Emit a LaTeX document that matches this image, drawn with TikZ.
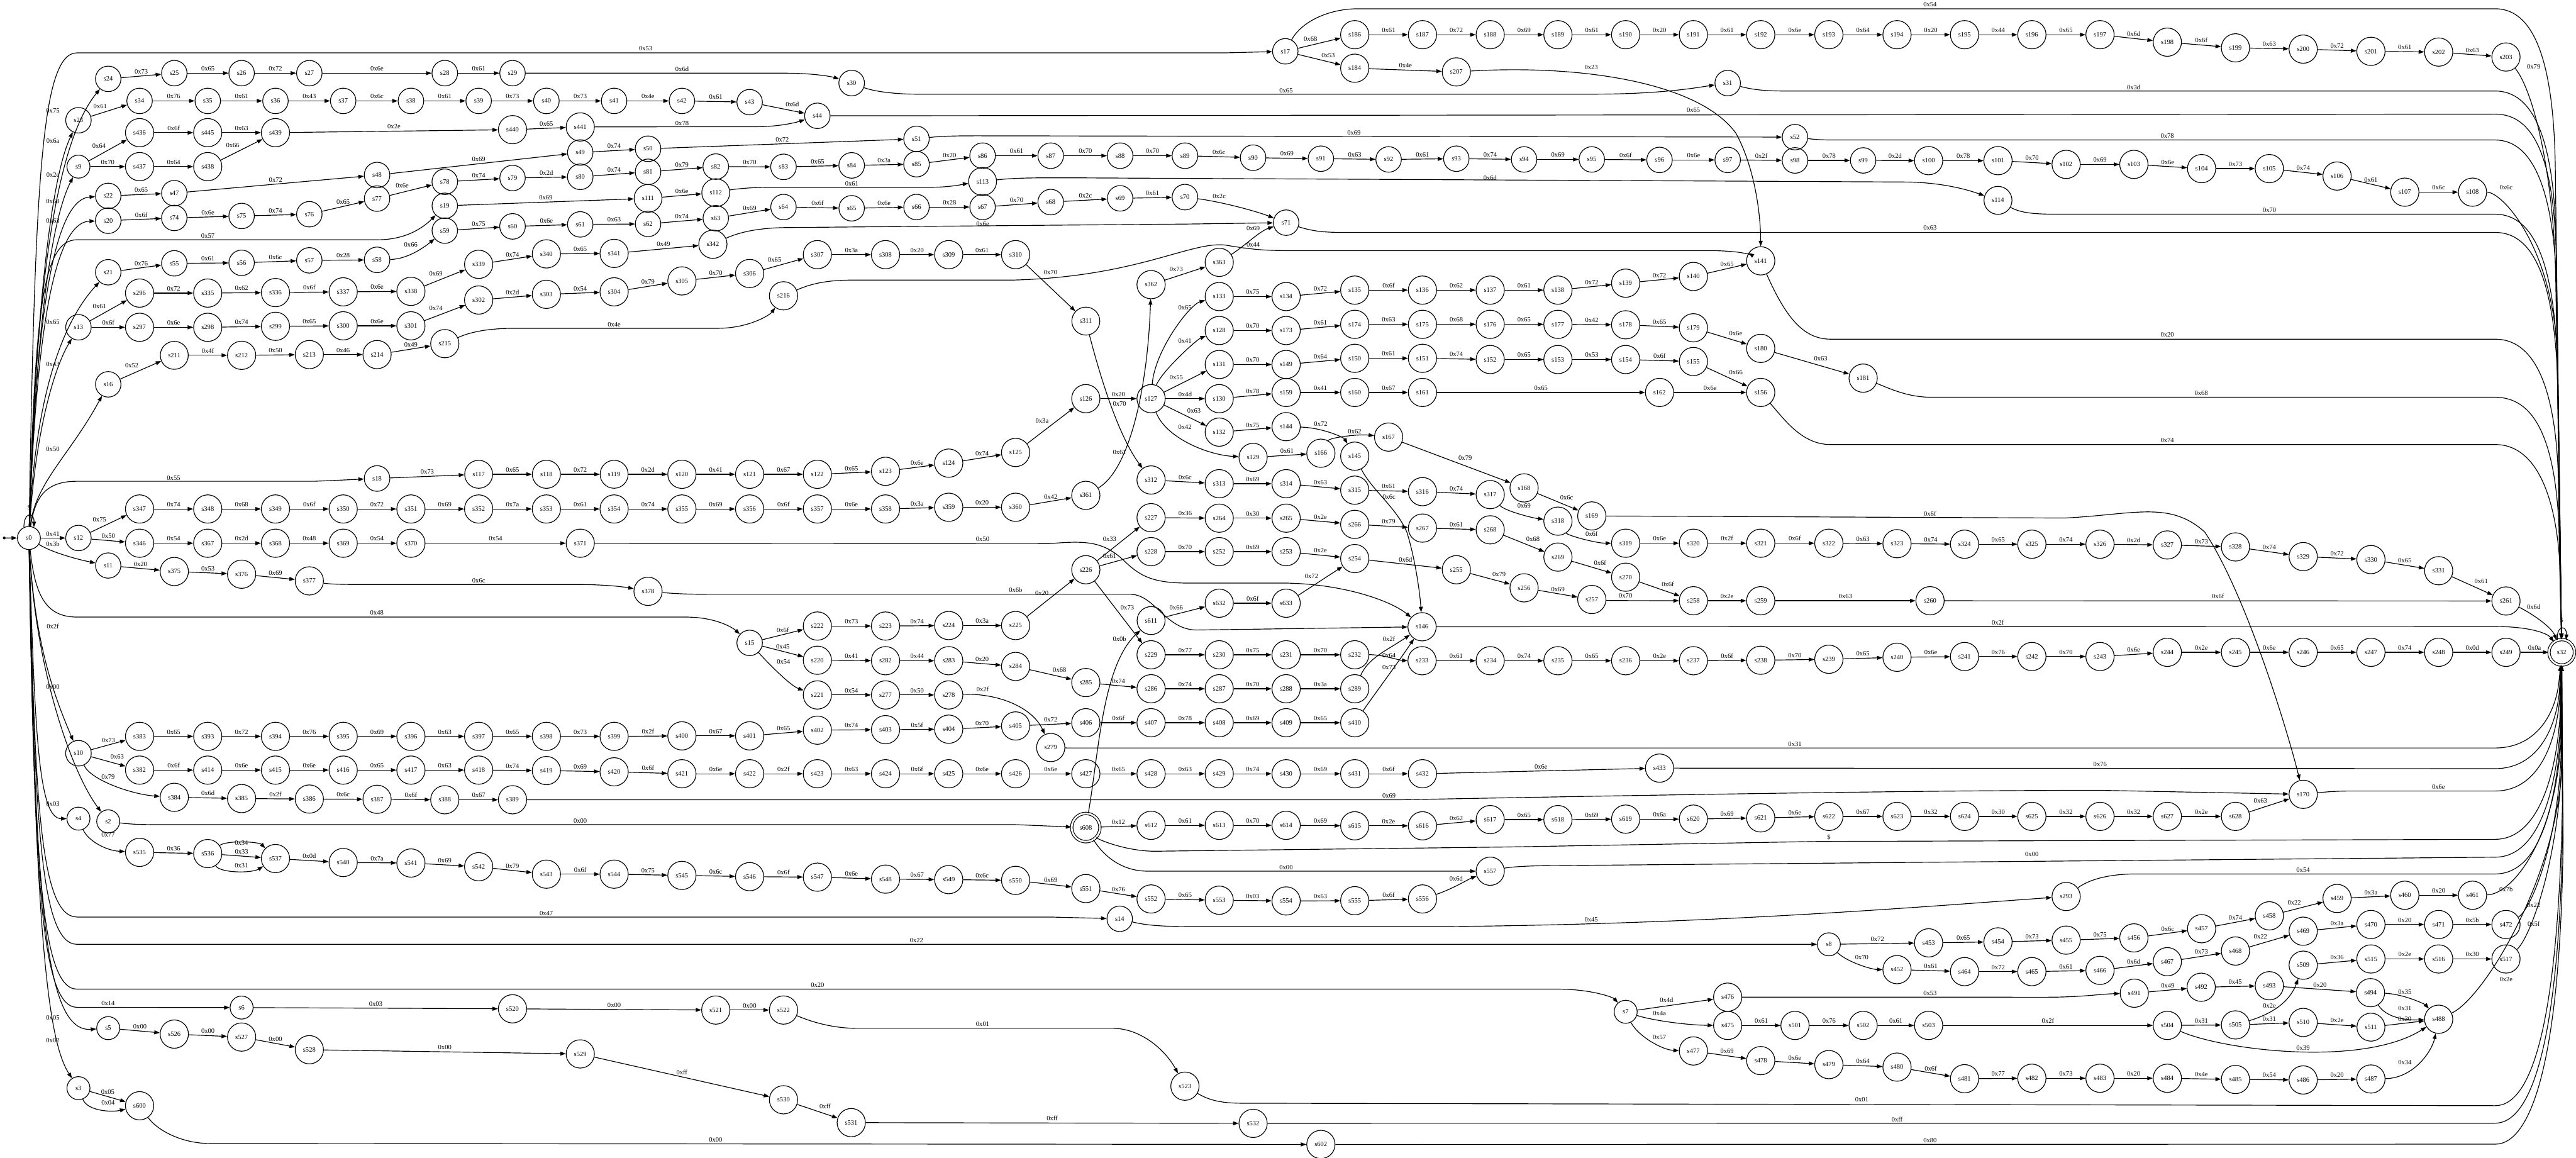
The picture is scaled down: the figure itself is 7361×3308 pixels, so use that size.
\documentclass[tikz,border=0pt]{standalone}
\usepackage{fontspec}
\setmainfont{Liberation Serif}
\usetikzlibrary{arrows.meta}
\newcommand\tfs{\fontsize{5.4}{6}\selectfont}
\newcommand\nd[3]{\node[st] (#1) at (#2,#3) {#1};}
\newcommand\ed[3]{\draw[e] (#1) -- node[lab]{#3} (#2);}
\newcommand\edu[3]{\draw[e] (#1) -- node[lab,above left]{#3} (#2);}
\newcommand\edd[3]{\draw[e] (#1) -- node[lab,above right]{#3} (#2);}
\begin{document}
\begin{tikzpicture}[x=0.01cm,y=-0.01cm,
 st/.style={draw,circle,inner sep=4.5pt,font=\tfs,line width=0.6pt},
 acc/.style={st,double,double distance=1.4pt},
 e/.style={-{Triangle[length=4.5pt,width=3.2pt]},line width=0.6pt},
 lab/.style={font=\tfs,above,inner sep=1.5pt},
 lb/.style={font=\tfs,inner sep=0pt},
 band/.style 2 args={shift={(#1,#2)},x=0.0118cm,y=-0.00708cm}]
\useasboundingbox (0,0) rectangle (7361,3308);
% ---------------- nodes
\begin{scope}[band={0}{0}]
\nd{s24}{262}{318}\nd{s25}{422}{295}\nd{s26}{585}{295}\nd{s27}{749}{295}\nd{s28}{1077}{295}\nd{s29}{1241}{295}
\nd{s23}{190}{485}\nd{s34}{338}{407}\nd{s35}{503}{407}\nd{s36}{667}{407}\nd{s37}{831}{407}\nd{s38}{995}{407}\nd{s39}{1159}{407}\nd{s40}{1323}{407}\nd{s41}{1487}{407}
\nd{s9}{190}{672}\nd{s436}{338}{535}\nd{s445}{503}{535}\nd{s439}{667}{535}\nd{s437}{338}{672}\nd{s438}{503}{672}\nd{s440}{1241}{523}\nd{s441}{1405}{512}
\nd{s49}{1405}{615}\nd{s48}{913}{706}\nd{s22}{262}{790}\nd{s47}{422}{779}
\nd{s20}{262}{890}\nd{s74}{422}{879}\nd{s75}{585}{871}\nd{s76}{749}{864}\nd{s77}{913}{801}\nd{s78}{1077}{733}\nd{s79}{1241}{718}\nd{s80}{1405}{713}
\nd{s19}{1077}{830}\nd{s59}{1077}{930}\nd{s60}{1241}{913}\nd{s61}{1405}{905}
\nd{s21}{262}{1098}\nd{s55}{422}{1062}\nd{s56}{585}{1060}\nd{s57}{749}{1050}\nd{s58}{913}{1048}
\nd{s339}{1159}{1066}\nd{s340}{1323}{1024}\nd{s341}{1487}{1022}
\nd{s13}{190}{1320}\nd{s296}{338}{1182}\nd{s335}{503}{1182}\nd{s336}{667}{1180}\nd{s337}{831}{1177}\nd{s338}{995}{1175}
\nd{s297}{338}{1320}\nd{s298}{503}{1320}\nd{s299}{667}{1316}\nd{s300}{831}{1314}\nd{s301}{995}{1314}\nd{s302}{1159}{1210}\nd{s303}{1323}{1187}\nd{s304}{1487}{1177}
\nd{s16}{262}{1550}\nd{s211}{422}{1433}\nd{s212}{585}{1433}\nd{s213}{749}{1430}\nd{s214}{913}{1430}\nd{s215}{1077}{1386}
\end{scope}
\begin{scope}[band={1840}{0}]
\nd{s17}{1553}{207}\nd{s30}{503}{335}\nd{s42}{92}{407}\nd{s43}{256}{412}\nd{s44}{420}{467}
\nd{s50}{10}{600}\nd{s51}{660}{560}
\nd{s81}{10}{693}\nd{s82}{174}{672}\nd{s83}{338}{673}\nd{s84}{503}{667}\nd{s85}{660}{662}\nd{s86}{820}{628}\nd{s87}{985}{628}\nd{s88}{1153}{628}\nd{s89}{1310}{628}\nd{s90}{1475}{636}
\nd{s111}{10}{800}\nd{s112}{174}{777}\nd{s113}{820}{732}
\nd{s62}{10}{903}\nd{s63}{174}{880}\nd{s64}{338}{835}\nd{s65}{503}{840}\nd{s66}{660}{835}\nd{s67}{820}{835}\nd{s68}{985}{815}\nd{s69}{1153}{800}\nd{s70}{1310}{795}\nd{s71}{1555}{898}
\nd{s342}{167}{985}\nd{s305}{92}{1133}\nd{s306}{256}{1103}\nd{s307}{420}{1027}\nd{s308}{585}{1027}\nd{s309}{738}{1027}\nd{s310}{900}{1027}\nd{s311}{1070}{1295}\nd{s216}{338}{1193}
\nd{s362}{1228}{1148}\nd{s363}{1393}{1058}\nd{s133}{1393}{1196}\nd{s134}{1555}{1196}\nd{s128}{1393}{1333}\nd{s173}{1555}{1333}\nd{s131}{1393}{1470}\nd{s149}{1555}{1470}
\end{scope}
\begin{scope}[band={3680}{0}]
\nd{s186}{162}{140}\nd{s187}{326}{140}\nd{s188}{490}{140}\nd{s189}{654}{140}\nd{s190}{818}{140}\nd{s191}{982}{140}\nd{s192}{1145}{140}\nd{s193}{1310}{140}\nd{s194}{1475}{140}
\nd{s184}{162}{275}\nd{s207}{408}{290}\nd{s31}{1065}{335}\nd{s52}{1228}{553}
\nd{s91}{80}{640}\nd{s92}{244}{643}\nd{s93}{408}{640}\nd{s94}{572}{643}\nd{s95}{736}{643}\nd{s96}{900}{645}\nd{s97}{1065}{645}\nd{s98}{1228}{647}\nd{s99}{1393}{647}
\nd{s135}{162}{1170}\nd{s136}{326}{1170}\nd{s137}{490}{1170}\nd{s138}{654}{1170}\nd{s139}{818}{1142}\nd{s140}{982}{1115}\nd{s141}{1145}{1052}
\nd{s174}{162}{1308}\nd{s175}{326}{1308}\nd{s176}{490}{1308}\nd{s177}{654}{1308}\nd{s178}{818}{1310}\nd{s179}{982}{1322}\nd{s180}{1145}{1405}\nd{s181}{1393}{1525}
\nd{s150}{162}{1445}\nd{s151}{326}{1445}\nd{s152}{490}{1450}\nd{s153}{654}{1450}\nd{s154}{818}{1450}\nd{s155}{982}{1458}
\end{scope}
\begin{scope}[band={5511}{0}]
\nd{s195}{87}{140}\nd{s196}{250}{140}\nd{s197}{415}{140}\nd{s198}{578}{170}\nd{s199}{743}{193}\nd{s200}{907}{198}\nd{s201}{1071}{207}\nd{s202}{1235}{210}\nd{s203}{1398}{230}
\nd{s100}{0}{648}\nd{s101}{168}{648}\nd{s102}{333}{663}\nd{s103}{497}{663}\nd{s104}{661}{680}\nd{s105}{825}{680}\nd{s106}{989}{710}\nd{s107}{1153}{775}\nd{s108}{1317}{775}
\nd{s114}{168}{808}
\end{scope}
\begin{scope}[band={0}{1100}]
\nd{s0}{70}{617}\nd{s18}{913}{377}\nd{s117}{1159}{360}\nd{s118}{1323}{360}\nd{s119}{1487}{360}
\nd{s12}{190}{617}\nd{s347}{338}{500}\nd{s348}{503}{500}\nd{s349}{667}{500}\nd{s350}{831}{500}\nd{s351}{995}{500}\nd{s352}{1159}{500}\nd{s353}{1323}{500}\nd{s354}{1487}{500}
\nd{s346}{338}{638}\nd{s367}{503}{638}\nd{s368}{667}{638}\nd{s369}{831}{638}\nd{s370}{995}{638}\nd{s371}{1405}{638}
\nd{s11}{262}{728}\nd{s375}{422}{752}\nd{s376}{585}{763}\nd{s377}{749}{790}
\nd{s10}{190}{1485}\nd{s383}{338}{1417}\nd{s393}{503}{1417}\nd{s394}{667}{1417}\nd{s395}{831}{1417}\nd{s396}{995}{1417}\nd{s397}{1159}{1417}\nd{s398}{1323}{1417}\nd{s399}{1487}{1417}
\nd{s382}{338}{1553}\nd{s414}{503}{1553}\nd{s415}{667}{1553}\nd{s416}{831}{1553}\nd{s417}{995}{1553}\nd{s418}{1159}{1553}\nd{s419}{1323}{1555}\nd{s420}{1487}{1560}
\end{scope}
\begin{scope}[band={1840}{1100}]
\nd{s120}{92}{360}\nd{s121}{256}{360}\nd{s122}{420}{360}\nd{s123}{585}{348}\nd{s124}{738}{315}\nd{s125}{900}{272}\nd{s126}{1070}{55}\nd{s127}{1228}{55}\nd{s130}{1393}{55}\nd{s159}{1555}{30}\nd{s132}{1393}{190}\nd{s144}{1555}{168}\nd{s129}{1475}{292}\nd{s312}{1228}{383}\nd{s313}{1393}{398}\nd{s314}{1555}{398}
\nd{s355}{92}{500}\nd{s356}{256}{500}\nd{s357}{420}{500}\nd{s358}{585}{500}\nd{s359}{738}{493}\nd{s360}{900}{493}\nd{s361}{1070}{445}
\nd{s378}{10}{832}
\nd{s227}{1228}{535}\nd{s264}{1393}{537}\nd{s265}{1555}{537}\nd{s228}{1228}{672}\nd{s252}{1393}{672}\nd{s253}{1555}{672}\nd{s226}{1070}{745}
\nd{s611}{1228}{950}\nd{s632}{1393}{880}\nd{s633}{1555}{880}
\nd{s222}{420}{972}\nd{s223}{585}{972}\nd{s224}{738}{970}\nd{s225}{900}{970}\nd{s15}{256}{1040}
\nd{s220}{420}{1110}\nd{s282}{585}{1112}\nd{s283}{738}{1112}\nd{s284}{900}{1135}\nd{s285}{1070}{1200}
\nd{s229}{1228}{1088}\nd{s230}{1393}{1088}\nd{s231}{1555}{1088}\nd{s286}{1228}{1225}\nd{s287}{1393}{1225}\nd{s288}{1555}{1225}
\nd{s221}{420}{1250}\nd{s277}{585}{1250}\nd{s278}{738}{1250}\nd{s279}{985}{1462}
\nd{s400}{92}{1415}\nd{s401}{256}{1415}\nd{s402}{420}{1392}\nd{s403}{585}{1390}\nd{s404}{738}{1388}\nd{s405}{900}{1375}
\nd{s406}{1070}{1362}\nd{s407}{1228}{1362}\nd{s408}{1393}{1362}\nd{s409}{1555}{1362}
\end{scope}
\begin{scope}[band={3680}{1100}]
\nd{s160}{162}{30}\nd{s161}{326}{30}\nd{s162}{900}{30}\nd{s156}{1145}{30}
\nd{s145}{162}{287}\nd{s166}{80}{275}\nd{s167}{244}{210}\nd{s168}{572}{415}\nd{s169}{736}{528}
\nd{s315}{162}{424}\nd{s316}{326}{430}\nd{s317}{490}{442}\nd{s318}{654}{549}\nd{s319}{818}{638}\nd{s320}{982}{638}\nd{s321}{1145}{638}\nd{s322}{1310}{638}\nd{s323}{1475}{640}
\nd{s266}{162}{562}\nd{s267}{326}{577}\nd{s268}{490}{584}\nd{s269}{654}{694}\nd{s270}{818}{775}\nd{s258}{982}{870}\nd{s259}{1145}{870}\nd{s260}{1555}{870}
\nd{s254}{162}{700}\nd{s255}{408}{745}\nd{s256}{572}{818}\nd{s257}{736}{865}
\nd{s146}{325}{975}
\nd{s232}{162}{1088}\nd{s233}{325}{1112}\nd{s234}{490}{1112}\nd{s235}{654}{1112}\nd{s236}{818}{1112}\nd{s237}{982}{1112}\nd{s238}{1145}{1110}\nd{s239}{1310}{1106}\nd{s240}{1475}{1098}
\nd{s289}{162}{1225}\nd{s410}{162}{1362}
\nd{s433}{900}{1545}
\end{scope}
\begin{scope}[band={5511}{1100}]
\nd{s324}{87}{642}\nd{s325}{250}{642}\nd{s326}{415}{642}\nd{s327}{578}{645}\nd{s328}{743}{653}\nd{s329}{907}{692}\nd{s330}{1071}{704}\nd{s331}{1235}{749}\nd{s261}{1398}{871}
\node[acc] (s32) at (1533,1078) {s32};
\nd{s241}{87}{1095}\nd{s242}{250}{1095}\nd{s243}{415}{1095}\nd{s244}{578}{1078}\nd{s245}{743}{1078}\nd{s246}{907}{1078}\nd{s247}{1071}{1078}\nd{s248}{1235}{1078}\nd{s249}{1398}{1078}
\end{scope}
\begin{scope}[band={0}{2200}]
\nd{s384}{422}{110}\nd{s385}{585}{115}\nd{s386}{749}{117}\nd{s387}{913}{118}\nd{s388}{1077}{120}\nd{s389}{1241}{120}
\nd{s4}{190}{196}\nd{s2}{262}{207}\nd{s535}{338}{332}\nd{s536}{503}{337}\nd{s537}{667}{357}\nd{s540}{831}{373}\nd{s541}{995}{375}\nd{s542}{1159}{390}\nd{s543}{1323}{420}\nd{s544}{1487}{420}
\nd{s6}{585}{958}\nd{s520}{1241}{963}\nd{s5}{262}{1041}\nd{s526}{422}{1065}\nd{s527}{585}{1077}\nd{s528}{749}{1128}\nd{s529}{1405}{1145}\nd{s3}{190}{1283}\nd{s600}{338}{1354}
\end{scope}
\begin{scope}[band={1840}{2200}]
\nd{s421}{92}{15}\nd{s422}{256}{15}\nd{s423}{420}{15}\nd{s424}{585}{15}\nd{s425}{738}{15}\nd{s426}{900}{15}\nd{s427}{1070}{15}\nd{s428}{1228}{15}\nd{s429}{1393}{15}\nd{s430}{1555}{15}
\node[acc] (s608) at (1070,232) {s608};
\nd{s612}{1228}{223}\nd{s613}{1393}{223}\nd{s614}{1555}{223}
\nd{s545}{92}{425}\nd{s546}{256}{430}\nd{s547}{420}{432}\nd{s548}{585}{440}\nd{s549}{738}{442}\nd{s550}{900}{445}\nd{s551}{1070}{478}\nd{s552}{1228}{520}\nd{s553}{1393}{525}\nd{s554}{1555}{528}
\nd{s14}{1152}{600}\nd{s521}{174}{968}\nd{s522}{338}{968}\nd{s523}{1310}{1275}\nd{s530}{338}{1330}\nd{s531}{502}{1422}\nd{s532}{1475}{1425}
\end{scope}
\begin{scope}[band={3680}{2200}]
\nd{s431}{162}{15}\nd{s432}{326}{15}
\nd{s615}{162}{225}\nd{s616}{326}{225}\nd{s617}{490}{200}\nd{s618}{654}{200}\nd{s619}{818}{198}\nd{s620}{982}{198}\nd{s621}{1145}{193}\nd{s622}{1310}{187}\nd{s623}{1475}{187}
\nd{s555}{162}{527}\nd{s556}{326}{520}\nd{s557}{490}{408}
\nd{s8}{1310}{703}\nd{s452}{1475}{805}
\nd{s7}{818}{975}\nd{s476}{1065}{916}\nd{s475}{1065}{1030}\nd{s501}{1228}{1030}\nd{s502}{1393}{1030}\nd{s477}{982}{1133}\nd{s478}{1145}{1172}\nd{s479}{1310}{1188}\nd{s480}{1475}{1198}
\nd{s602}{80}{1510}
\end{scope}
\begin{scope}[band={5511}{2200}]
\nd{s170}{907}{98}\nd{s624}{87}{187}\nd{s625}{250}{187}\nd{s626}{415}{187}\nd{s627}{578}{187}\nd{s628}{743}{187}
\nd{s293}{333}{510}
\nd{s453}{0}{697}\nd{s454}{168}{693}\nd{s455}{333}{686}\nd{s456}{497}{677}\nd{s457}{661}{640}\nd{s458}{825}{588}\nd{s459}{989}{518}\nd{s460}{1153}{505}\nd{s461}{1317}{505}
\nd{s464}{87}{813}\nd{s465}{250}{813}\nd{s466}{415}{808}\nd{s467}{578}{773}\nd{s468}{743}{730}\nd{s469}{907}{650}\nd{s470}{1071}{623}\nd{s471}{1235}{623}\nd{s472}{1398}{623}
\nd{s509}{907}{787}\nd{s515}{1071}{762}\nd{s516}{1235}{762}\nd{s517}{1398}{762}
\nd{s491}{498}{900}\nd{s492}{660}{876}\nd{s493}{825}{870}\nd{s494}{1070}{898}\nd{s488}{1235}{1005}
\nd{s503}{0}{1030}\nd{s504}{578}{1030}\nd{s505}{743}{1028}\nd{s510}{907}{1018}\nd{s511}{1071}{1037}
\nd{s481}{87}{1245}\nd{s482}{250}{1243}\nd{s483}{415}{1243}\nd{s484}{578}{1243}\nd{s485}{743}{1248}\nd{s486}{907}{1250}\nd{s487}{1071}{1246}
\end{scope}
% ---------------- start arrow and loops
\coordinate (init) at (12,1537);
\fill (init) circle (4);
\draw[e] (init) -- (s0);
\draw[e] (s0.115) .. controls (68,1462) and (98,1462) .. (s0.65) node[lb] at (83,1450) {\$};
\draw[e] (s32.110) .. controls (7305,1785) and (7335,1785) .. (s32.70) node[lb] at (7320,1772) {\$};
% ---------------- chains
\ed{s24}{s25}{0x73}\ed{s25}{s26}{0x65}\ed{s26}{s27}{0x72}\ed{s27}{s28}{0x6e}\ed{s28}{s29}{0x61}
\edu{s23}{s34}{0x61}\ed{s34}{s35}{0x76}\ed{s35}{s36}{0x61}\ed{s36}{s37}{0x43}\ed{s37}{s38}{0x6c}\ed{s38}{s39}{0x61}\ed{s39}{s40}{0x73}\ed{s40}{s41}{0x73}\ed{s41}{s42}{0x4e}\ed{s42}{s43}{0x61}\edd{s43}{s44}{0x6d}
\edu{s9}{s436}{0x64}\ed{s9}{s437}{0x70}\ed{s436}{s445}{0x6f}\ed{s445}{s439}{0x63}\ed{s437}{s438}{0x64}\edu{s438}{s439}{0x66}\ed{s439}{s440}{0x2e}\ed{s440}{s441}{0x65}
\ed{s22}{s47}{0x65}\ed{s47}{s48}{0x72}\ed{s48}{s49}{0x69}\ed{s49}{s50}{0x74}\ed{s50}{s51}{0x72}
\ed{s20}{s74}{0x6f}\ed{s74}{s75}{0x6e}\ed{s75}{s76}{0x74}\ed{s76}{s77}{0x65}\edu{s77}{s78}{0x6e}\ed{s78}{s79}{0x74}\ed{s79}{s80}{0x2d}\ed{s80}{s81}{0x74}\ed{s81}{s82}{0x79}\ed{s82}{s83}{0x70}\ed{s83}{s84}{0x65}\ed{s84}{s85}{0x3a}\ed{s85}{s86}{0x20}\ed{s86}{s87}{0x61}\ed{s87}{s88}{0x70}\ed{s88}{s89}{0x70}\ed{s89}{s90}{0x6c}\ed{s90}{s91}{0x69}\ed{s91}{s92}{0x63}\ed{s92}{s93}{0x61}\ed{s93}{s94}{0x74}\ed{s94}{s95}{0x69}\ed{s95}{s96}{0x6f}\ed{s96}{s97}{0x6e}\ed{s97}{s98}{0x2f}\ed{s98}{s99}{0x78}\ed{s99}{s100}{0x2d}\ed{s100}{s101}{0x78}\ed{s101}{s102}{0x70}\ed{s102}{s103}{0x69}\ed{s103}{s104}{0x6e}\ed{s104}{s105}{0x73}\ed{s105}{s106}{0x74}\ed{s106}{s107}{0x61}\ed{s107}{s108}{0x6c}
\ed{s19}{s111}{0x69}\ed{s111}{s112}{0x6e}
\ed{s59}{s60}{0x75}\ed{s60}{s61}{0x6e}\ed{s61}{s62}{0x63}\ed{s62}{s63}{0x74}\ed{s63}{s64}{0x69}\ed{s64}{s65}{0x6f}\ed{s65}{s66}{0x6e}\ed{s66}{s67}{0x28}\ed{s67}{s68}{0x70}\ed{s68}{s69}{0x2c}\ed{s69}{s70}{0x61}
\ed{s21}{s55}{0x76}\ed{s55}{s56}{0x61}\ed{s56}{s57}{0x6c}\ed{s57}{s58}{0x28}
\edu{s13}{s296}{0x61}\ed{s13}{s297}{0x6f}\ed{s296}{s335}{0x72}\ed{s335}{s336}{0x62}\ed{s336}{s337}{0x6f}\ed{s337}{s338}{0x6e}\edu{s338}{s339}{0x69}\ed{s339}{s340}{0x74}\ed{s340}{s341}{0x65}\ed{s341}{s342}{0x49}
\ed{s297}{s298}{0x6e}\ed{s298}{s299}{0x74}\ed{s299}{s300}{0x65}\ed{s300}{s301}{0x6e}\edu{s301}{s302}{0x74}\ed{s302}{s303}{0x2d}\ed{s303}{s304}{0x54}\ed{s304}{s305}{0x79}\ed{s305}{s306}{0x70}\edu{s306}{s307}{0x65}\ed{s307}{s308}{0x3a}\ed{s308}{s309}{0x20}\ed{s309}{s310}{0x61}
\edu{s16}{s211}{0x52}\ed{s211}{s212}{0x4f}\ed{s212}{s213}{0x50}\ed{s213}{s214}{0x46}\ed{s214}{s215}{0x49}
\edu{s17}{s186}{0x68}\edd{s17}{s184}{0x53}\ed{s184}{s207}{0x4e}
\ed{s186}{s187}{0x61}\ed{s187}{s188}{0x72}\ed{s188}{s189}{0x69}\ed{s189}{s190}{0x61}\ed{s190}{s191}{0x20}\ed{s191}{s192}{0x61}\ed{s192}{s193}{0x6e}\ed{s193}{s194}{0x64}\ed{s194}{s195}{0x20}\ed{s195}{s196}{0x44}\ed{s196}{s197}{0x65}\ed{s197}{s198}{0x6d}\ed{s198}{s199}{0x6f}\ed{s199}{s200}{0x63}\ed{s200}{s201}{0x72}\ed{s201}{s202}{0x61}\ed{s202}{s203}{0x63}
\edu{s362}{s363}{0x73}
\ed{s133}{s134}{0x75}\ed{s134}{s135}{0x72}\ed{s135}{s136}{0x6f}\ed{s136}{s137}{0x62}\ed{s137}{s138}{0x61}\ed{s138}{s139}{0x72}\ed{s139}{s140}{0x72}\ed{s140}{s141}{0x65}
\ed{s128}{s173}{0x70}\ed{s173}{s174}{0x61}\ed{s174}{s175}{0x63}\ed{s175}{s176}{0x68}\ed{s176}{s177}{0x65}\ed{s177}{s178}{0x42}\ed{s178}{s179}{0x65}\edd{s179}{s180}{0x6e}\edd{s180}{s181}{0x63}
\ed{s131}{s149}{0x70}\ed{s149}{s150}{0x64}\ed{s150}{s151}{0x61}\ed{s151}{s152}{0x74}\ed{s152}{s153}{0x65}\ed{s153}{s154}{0x53}\ed{s154}{s155}{0x6f}\edd{s155}{s156}{0x66}
\ed{s18}{s117}{0x73}\ed{s117}{s118}{0x65}\ed{s118}{s119}{0x72}\ed{s119}{s120}{0x2d}\ed{s120}{s121}{0x41}\ed{s121}{s122}{0x67}\ed{s122}{s123}{0x65}\ed{s123}{s124}{0x6e}\ed{s124}{s125}{0x74}\edu{s125}{s126}{0x3a}\ed{s126}{s127}{0x20}
\edu{s12}{s347}{0x75}\ed{s12}{s346}{0x50}
\ed{s347}{s348}{0x74}\ed{s348}{s349}{0x68}\ed{s349}{s350}{0x6f}\ed{s350}{s351}{0x72}\ed{s351}{s352}{0x69}\ed{s352}{s353}{0x7a}\ed{s353}{s354}{0x61}\ed{s354}{s355}{0x74}\ed{s355}{s356}{0x69}\ed{s356}{s357}{0x6f}\ed{s357}{s358}{0x6e}\ed{s358}{s359}{0x3a}\ed{s359}{s360}{0x20}\ed{s360}{s361}{0x42}
\ed{s346}{s367}{0x54}\ed{s367}{s368}{0x2d}\ed{s368}{s369}{0x48}\ed{s369}{s370}{0x54}\ed{s370}{s371}{0x54}
\ed{s11}{s375}{0x20}\ed{s375}{s376}{0x53}\ed{s376}{s377}{0x69}
\ed{s10}{s383}{0x73}\edd{s10}{s382}{0x63}
\ed{s383}{s393}{0x65}\ed{s393}{s394}{0x72}\ed{s394}{s395}{0x76}\ed{s395}{s396}{0x69}\ed{s396}{s397}{0x63}\ed{s397}{s398}{0x65}\ed{s398}{s399}{0x73}\ed{s399}{s400}{0x2f}\ed{s400}{s401}{0x67}\ed{s401}{s402}{0x65}\ed{s402}{s403}{0x74}\ed{s403}{s404}{0x5f}\ed{s404}{s405}{0x70}\ed{s405}{s406}{0x72}\ed{s406}{s407}{0x6f}\ed{s407}{s408}{0x78}\ed{s408}{s409}{0x69}\ed{s409}{s410}{0x65}
\ed{s382}{s414}{0x6f}\ed{s414}{s415}{0x6e}\ed{s415}{s416}{0x6e}\ed{s416}{s417}{0x65}\ed{s417}{s418}{0x63}\ed{s418}{s419}{0x74}\ed{s419}{s420}{0x69}\ed{s420}{s421}{0x6f}\ed{s421}{s422}{0x6e}\ed{s422}{s423}{0x2f}\ed{s423}{s424}{0x63}\ed{s424}{s425}{0x6f}\ed{s425}{s426}{0x6e}\ed{s426}{s427}{0x6e}\ed{s427}{s428}{0x65}\ed{s428}{s429}{0x63}\ed{s429}{s430}{0x74}\ed{s430}{s431}{0x69}\ed{s431}{s432}{0x6f}\ed{s432}{s433}{0x6e}
\ed{s384}{s385}{0x6d}\ed{s385}{s386}{0x2f}\ed{s386}{s387}{0x6c}\ed{s387}{s388}{0x6f}\ed{s388}{s389}{0x67}
\ed{s127}{s130}{0x4d}\ed{s130}{s159}{0x78}\edd{s127}{s132}{0x63}\ed{s132}{s144}{0x75}\edu{s127}{s131}{0x55}\ed{s129}{s166}{0x61}\ed{s312}{s313}{0x6c}\ed{s313}{s314}{0x69}
\ed{s159}{s160}{0x41}\ed{s160}{s161}{0x67}\ed{s161}{s162}{0x65}\ed{s162}{s156}{0x6e}
\edd{s167}{s168}{0x79}\edd{s168}{s169}{0x6c}
\ed{s314}{s315}{0x63}\ed{s315}{s316}{0x61}\ed{s316}{s317}{0x74}\ed{s319}{s320}{0x6e}\ed{s320}{s321}{0x2f}\ed{s321}{s322}{0x6f}\ed{s322}{s323}{0x63}\ed{s323}{s324}{0x74}\ed{s324}{s325}{0x65}\ed{s325}{s326}{0x74}\ed{s326}{s327}{0x2d}\ed{s327}{s328}{0x73}\ed{s328}{s329}{0x74}\ed{s329}{s330}{0x72}\ed{s330}{s331}{0x65}\edd{s331}{s261}{0x61}
\edu{s226}{s227}{0x33}\edu{s226}{s228}{0x61}\edd{s226}{s229}{0x73}
\ed{s227}{s264}{0x36}\ed{s264}{s265}{0x30}\ed{s265}{s266}{0x2e}\ed{s266}{s267}{0x79}\ed{s267}{s268}{0x61}\edd{s268}{s269}{0x68}\edd{s269}{s270}{0x6f}\edd{s270}{s258}{0x6f}\ed{s258}{s259}{0x2e}\ed{s259}{s260}{0x63}\ed{s260}{s261}{0x6f}
\ed{s228}{s252}{0x70}\ed{s252}{s253}{0x69}\ed{s253}{s254}{0x2e}\ed{s254}{s255}{0x6d}\edd{s255}{s256}{0x79}\ed{s256}{s257}{0x69}
\edu{s611}{s632}{0x66}\ed{s632}{s633}{0x6f}\edu{s633}{s254}{0x72}
\ed{s229}{s230}{0x77}\ed{s230}{s231}{0x75}\ed{s231}{s232}{0x70}
\ed{s233}{s234}{0x61}\ed{s234}{s235}{0x74}\ed{s235}{s236}{0x65}\ed{s236}{s237}{0x2e}\ed{s237}{s238}{0x6f}\ed{s238}{s239}{0x70}\ed{s239}{s240}{0x65}\ed{s240}{s241}{0x6e}\ed{s241}{s242}{0x76}\ed{s242}{s243}{0x70}\ed{s243}{s244}{0x6e}\ed{s244}{s245}{0x2e}\ed{s245}{s246}{0x6e}\ed{s246}{s247}{0x65}\ed{s247}{s248}{0x74}\ed{s248}{s249}{0x0d}\ed{s249}{s32}{0x0a}
\ed{s15}{s222}{0x6f}\ed{s15}{s220}{0x45}\ed{s222}{s223}{0x73}\ed{s223}{s224}{0x74}\ed{s224}{s225}{0x3a}\edu{s225}{s226}{0x20}
\ed{s220}{s282}{0x41}\ed{s282}{s283}{0x44}\ed{s283}{s284}{0x20}\edd{s284}{s285}{0x68}\ed{s285}{s286}{0x74}\ed{s286}{s287}{0x74}\ed{s287}{s288}{0x70}\ed{s288}{s289}{0x3a}
\ed{s221}{s277}{0x54}\ed{s277}{s278}{0x50}
\ed{s535}{s536}{0x36}\ed{s536}{s537}{0x33}\ed{s537}{s540}{0x0d}\ed{s540}{s541}{0x7a}\ed{s541}{s542}{0x69}\ed{s542}{s543}{0x79}\ed{s543}{s544}{0x6f}\ed{s544}{s545}{0x75}\ed{s545}{s546}{0x6c}\ed{s546}{s547}{0x6f}\ed{s547}{s548}{0x6e}\ed{s548}{s549}{0x67}\ed{s549}{s550}{0x6c}\ed{s550}{s551}{0x69}\ed{s551}{s552}{0x76}\ed{s552}{s553}{0x65}\ed{s553}{s554}{0x03}\ed{s554}{s555}{0x63}\ed{s555}{s556}{0x6f}
\ed{s6}{s520}{0x03}\ed{s520}{s521}{0x00}\ed{s521}{s522}{0x00}
\ed{s5}{s526}{0x00}\ed{s526}{s527}{0x00}\ed{s527}{s528}{0x00}\ed{s528}{s529}{0x00}\ed{s529}{s530}{0xff}\edd{s530}{s531}{0xff}\ed{s531}{s532}{0xff}
\ed{s3}{s600}{0x05}
\ed{s608}{s612}{0x12}\ed{s612}{s613}{0x61}\ed{s613}{s614}{0x70}\ed{s614}{s615}{0x69}\ed{s615}{s616}{0x2e}\ed{s616}{s617}{0x62}\ed{s617}{s618}{0x65}\ed{s618}{s619}{0x69}\ed{s619}{s620}{0x6a}\ed{s620}{s621}{0x69}\ed{s621}{s622}{0x6e}\ed{s622}{s623}{0x67}\ed{s623}{s624}{0x32}\ed{s624}{s625}{0x30}\ed{s625}{s626}{0x32}\ed{s626}{s627}{0x32}\ed{s627}{s628}{0x2e}\edu{s628}{s170}{0x63}
\ed{s8}{s453}{0x72}\ed{s453}{s454}{0x65}\ed{s454}{s455}{0x73}\ed{s455}{s456}{0x75}\ed{s456}{s457}{0x6c}\ed{s457}{s458}{0x74}\edu{s458}{s459}{0x22}\ed{s459}{s460}{0x3a}\ed{s460}{s461}{0x20}
\ed{s452}{s464}{0x61}\ed{s464}{s465}{0x72}\ed{s465}{s466}{0x61}\ed{s466}{s467}{0x6d}\ed{s467}{s468}{0x73}\edu{s468}{s469}{0x22}\ed{s469}{s470}{0x3a}\ed{s470}{s471}{0x20}\ed{s471}{s472}{0x5b}
\edu{s7}{s476}{0x4d}
\ed{s491}{s492}{0x49}\ed{s492}{s493}{0x45}\ed{s493}{s494}{0x20}
\ed{s475}{s501}{0x61}\ed{s501}{s502}{0x76}\ed{s502}{s503}{0x61}\ed{s503}{s504}{0x2f}\ed{s504}{s505}{0x31}\ed{s505}{s510}{0x31}\ed{s510}{s511}{0x2e}\ed{s511}{s488}{0x30}\ed{s509}{s515}{0x36}\ed{s515}{s516}{0x2e}\ed{s516}{s517}{0x30}
\ed{s477}{s478}{0x69}\ed{s478}{s479}{0x6e}\ed{s479}{s480}{0x64}\ed{s480}{s481}{0x6f}\ed{s481}{s482}{0x77}\ed{s482}{s483}{0x73}\ed{s483}{s484}{0x20}\ed{s484}{s485}{0x4e}\ed{s485}{s486}{0x54}\ed{s486}{s487}{0x20}
% ---------------- fan from s0
\draw[e] (s0) .. controls (100,500) and (120,151) .. (220,151) -- (3500,151) -- (s17) node[lb] at (1845,138) {0x53};
\draw[e] (s0) .. controls (100,880) and (150,420) .. (s24) node[lb] at (151,316) {0x75};
\draw[e] (s0) .. controls (100,950) and (140,520) .. (s23) node[lb] at (151,402) {0x6a};
\draw[e] (s0) .. controls (100,1000) and (140,640) .. (s9) node[lb] at (151,499) {0x2e};
\draw[e] (s0) .. controls (100,1000) and (140,570) .. (s22) node[lb] at (151,575) {0x68};
\draw[e] (s0) .. controls (100,1050) and (140,635) .. (s20) node[lb] at (151,630) {0x63};
\draw[e] (s0) .. controls (100,900) and (120,685) .. (220,685) -- (1080,685) .. controls (1160,685) and (1210,650) .. (s19) node[lb] at (594,674) {0x57};
\draw[e] (s0) .. controls (100,1150) and (170,930) .. (s21) node[lb] at (151,920) {0x65};
\draw[e] (s0) .. controls (100,1250) and (150,1060) .. (s13) node[lb] at (151,1041) {0x43};
\draw[e] (s0) .. controls (100,1380) and (200,1300) .. (s16) node[lb] at (151,1283) {0x50};
\draw[e] (s0) .. controls (100,1420) and (130,1375) .. (220,1375) -- (900,1375) -- (s18) node[lb] at (496,1365) {0x55};
\draw[e] (s0) -- (s12) node[lb] at (151,1526) {0x41};
\draw[e] (s0) .. controls (150,1580) and (230,1600) .. (s11) node[lb] at (151,1555) {0x3b};
\draw[e] (s0) .. controls (100,1700) and (130,1763) .. (220,1763) -- (1960,1763) .. controls (2040,1763) and (2090,1790) .. (s15) node[lb] at (1077,1751) {0x48};
\draw[e] (s0) .. controls (100,1850) and (160,2000) .. (s10) node[lb] at (151,1790) {0x2f};
\draw[e] (s0) .. controls (100,1900) and (200,2200) .. (s2) node[lb] at (151,1962) {0x00};
\draw[e] (s0) .. controls (100,2100) and (110,2339) .. (s4) node[lb] at (151,2296) {0x03};
\draw[e] (s0) .. controls (100,2250) and (110,2620) .. (220,2620) -- (3000,2620) -- (s14) node[lb] at (1561,2609) {0x47};
\draw[e] (s0) .. controls (100,2300) and (110,2698) .. (220,2698) -- (s8) node[lb] at (2619,2687) {0x22};
\draw[e] (s0) .. controls (100,2400) and (110,2826) .. (220,2826) -- (4450,2826) .. controls (4550,2826) and (4610,2850) .. (s7) node[lb] at (2336,2815) {0x20};
\draw[e] (s0) .. controls (100,2450) and (110,2878) .. (220,2878) -- (s6) node[lb] at (309,2867) {0x14};
\draw[e] (s0) .. controls (100,2600) and (130,2950) .. (s5) node[lb] at (151,2907) {0x05};
\draw[e] (s0) .. controls (100,2700) and (140,2980) .. (s3) node[lb] at (151,2972) {0x02};
% ---------------- other curved edges
\draw[e] (s29) -- (2240,209) .. controls (2330,209) and (2380,220) .. (s30) node[lb] at (1949,198) {0x6d};
\draw[e] (s30) .. controls (2500,262) and (2560,269) .. (2620,269) -- (4550,269) .. controls (4750,269) and (4850,250) .. (s31) node[lb] at (3675,258) {0x65};
\draw[e] (s441) -- (2160,362) .. controls (2240,362) and (2290,345) .. (s44) node[lb] at (1949,352) {0x78};
\draw[e] (s51) .. controls (2700,388) and (2750,388) .. (2800,388) -- (s52) node[lb] at (3869,379) {0x69};
\draw[e] (s112) .. controls (2100,540) and (2150,535) .. (2200,535) -- (2660,535) .. controls (2720,535) and (2760,525) .. (s113) node[lb] at (2434,524) {0x61};
\draw[e] (s113) .. controls (2900,508) and (2950,508) .. (3050,508) -- (5450,520) .. controls (5560,522) and (5630,545) .. (s114) node[lb] at (4258,508) {0x6d};
\draw[e] (s70) .. controls (3480,575) and (3580,600) .. (s71) node[lb] at (3484,561) {0x2c};
\draw[e] (s342) .. controls (2120,660) and (2180,650) .. (2260,650) -- (3400,640) -- (s71) node[lb] at (2808,640) {0x6e};
\draw[e] (s363) .. controls (3560,700) and (3600,660) .. (s71) node[lb] at (3581,653) {0x69};
\draw[e] (s58) .. controls (1170,740) and (1220,700) .. (s59) node[lb] at (1174,700) {0x66};
\draw[e] (s215) .. controls (1340,950) and (1390,938) .. (1470,938) -- (2050,938) .. controls (2140,938) and (2200,900) .. (s216) node[lb] at (1755,927) {0x4e};
\draw[e] (s216) .. controls (2330,805) and (2380,800) .. (2450,800) -- (2900,800) .. controls (3250,790) and (3400,690) .. (3500,700) .. controls (3560,710) and (3600,716) .. (3680,716) -- (4880,716) .. controls (4960,716) and (5000,725) .. (s141) node[lb] at (3581,700) {0x44};
\draw[e] (s207) .. controls (4500,185) and (4850,230) .. (4960,380) .. controls (5010,470) and (5031,600) .. (s141) node[lb] at (4547,193) {0x23};
\draw[e] (s361) .. controls (3230,1340) and (3280,1100) .. (s362) node[lb] at (3199,1293) {0x61};
\draw[e] (s310) -- (s311) node[lb] at (3002,779) {0x70};
\draw[e] (s311) .. controls (3150,1100) and (3200,1250) .. (s312) node[lb] at (3199,1153) {0x70};
\draw[e] (s127) .. controls (3300,1000) and (3400,870) .. (s133) node[lb] at (3386,878) {0x65};
\draw[e] (s127) .. controls (3320,1060) and (3420,970) .. (s128) node[lb] at (3386,974) {0x41};
\draw[e] (s127) .. controls (3330,1250) and (3450,1300) .. (s129) node[lb] at (3386,1220) {0x42};
\draw[e] (s144) .. controls (3780,1222) and (3840,1250) .. (s145) node[lb] at (3774,1212) {0x72};
\draw[e] (s145) .. controls (3920,1400) and (3990,1450) .. (4020,1520) .. controls (4045,1600) and (4058,1700) .. (s146) node[lb] at (3969,1420) {0x6c};
\draw[e] (s166) .. controls (3800,1250) and (3880,1240) .. (s167) node[lb] at (3871,1232) {0x62};
\draw[e] (s317) .. controls (4300,1460) and (4380,1480) .. (s318) node[lb] at (4355,1445) {0x69};
\draw[e] (s318) .. controls (4480,1530) and (4560,1552) .. (s319) node[lb] at (4548,1525) {0x6f};
\draw[e] (s257) .. controls (4600,1716) and (4700,1716) .. (s258) node[lb] at (4645,1702) {0x70};
\draw[e] (s232) .. controls (3950,1870) and (4000,1887) .. (s233) node[lb] at (3969,1872) {0x64};
\draw[e] (s289) .. controls (3910,1880) and (3960,1860) .. (s146) node[lb] at (3969,1826) {0x2f};
\draw[e] (s410) .. controls (3930,1980) and (3990,1900) .. (s146) node[lb] at (3969,1906) {0x73};
\draw[e] (s371) -- (3000,1553) .. controls (3100,1545) and (3150,1545) .. (3210,1600) .. controls (3260,1650) and (3300,1666) .. (3400,1666) -- (3680,1666) .. controls (3850,1670) and (3980,1720) .. (s146) node[lb] at (2808,1540) {0x50};
\draw[e] (s378) .. controls (1950,1698) and (2000,1698) .. (2050,1698) -- (3230,1698) .. controls (3300,1698) and (3330,1800) .. (3420,1800) -- (s146) node[lb] at (2902,1686) {0x6b};
\draw[e] (s377) .. controls (950,1670) and (1000,1670) .. (1050,1670) -- (1650,1670) .. controls (1750,1670) and (1800,1680) .. (s378) node[lb] at (1368,1658) {0x6c};
\draw[e] (s15) .. controls (2200,1900) and (2260,1960) .. (s221) node[lb] at (2239,1890) {0x54};
\draw[e] (s278) .. controls (2850,1980) and (2950,2020) .. (s279) node[lb] at (2808,1970) {0x2f};
\draw[e] (s608) .. controls (3140,2150) and (3150,1900) .. (s611) node[lb] at (3199,1826) {0x0b};
\draw[e] (s10) .. controls (260,2230) and (380,2270) .. (s384) node[lb] at (309,2219) {0x79};
\draw[e] (s4) .. controls (250,2400) and (300,2430) .. (s535) node[lb] at (309,2385) {0x77};
\draw[e] (s536) .. controls (650,2400) and (740,2405) .. (s537) node[lb] at (690,2408) {0x34};
\draw[e] (s536) .. controls (630,2495) and (720,2495) .. (s537) node[lb] at (690,2473) {0x31};
\draw[e] (s3) .. controls (250,3175) and (320,3178) .. (s600) node[lb] at (309,3151) {0x04};
\draw[e] (s600) .. controls (450,3230) and (520,3267) .. (600,3267) -- (s602) node[lb] at (2045,3256) {0x00};
\draw[e] (s522) .. controls (2320,2920) and (2380,2938) .. (2450,2938) -- (3180,2938) .. controls (3260,2938) and (3330,3000) .. (s523) node[lb] at (2808,2926) {0x01};
\draw[e] (s2) .. controls (380,2356) and (420,2356) .. (480,2356) -- (2900,2356) -- (s608) node[lb] at (1658,2345) {0x00};
\draw[e] (s608) .. controls (3150,2440) and (3200,2489) .. (3280,2489) -- (s557) node[lb] at (3675,2478) {0x00};
\draw[e] (s556) .. controls (4150,2540) and (4200,2510) .. (s557) node[lb] at (4161,2510) {0x6d};
\draw[e] (s476) -- (5850,2849) .. controls (5950,2849) and (6000,2840) .. (s491) node[lb] at (5515,2837) {0x53};
\draw[e] (s7) .. controls (4720,2915) and (4820,2929) .. (s475) node[lb] at (4742,2895) {0x4a};
\draw[e] (s7) .. controls (4680,2960) and (4750,3000) .. (s477) node[lb] at (4742,2963) {0x57};
\draw[e] (s8) .. controls (5280,2750) and (5350,2770) .. (s452) node[lb] at (5320,2735) {0x70};
\draw[e] (s14) .. controls (3280,2645) and (3330,2647) .. (3400,2647) -- (4150,2647) .. controls (4900,2640) and (5500,2590) .. (s293) node[lb] at (4547,2628) {0x45};
\draw[e] (s504) .. controls (6350,3000) and (6750,3050) .. (s488) node[lb] at (6581,2994) {0x39};
\draw[e] (s505) .. controls (6480,2900) and (6540,2870) .. (s509) node[lb] at (6485,2873) {0x2e};
\draw[e] (s494) .. controls (6870,2840) and (6930,2870) .. (s488) node[lb] at (6872,2834) {0x35};
\draw[e] (s494) .. controls (6820,2910) and (6880,2915) .. (s488) node[lb] at (6872,2880) {0x31};
\draw[e] (s487) .. controls (6900,3080) and (6950,3000) .. (s488) node[lb] at (6872,3035) {0x34};
\draw[e] (s389) -- (4000,2285) .. controls (4800,2270) and (5500,2258) .. (6000,2258) -- (s170) node[lb] at (3969,2274) {0x69};
\draw[e] (s169) -- (5900,1480) .. controls (6100,1470) and (6200,1430) .. (6300,1520) .. controls (6420,1700) and (6540,2100) .. (s170) node[lb] at (5515,1468) {0x6f};
% ---------------- into s32 from above
\draw[e] (s17) .. controls (3720,60) and (3800,25) .. (3880,25) -- (7130,25) .. controls (7250,25) and (7300,200) .. (7302,500) -- (s32) node[lb] at (5515,13) {0x54};
\draw[e] (s203) .. controls (7240,260) and (7298,500) .. (7303,800) -- (s32) node[lb] at (7240,190) {0x79};
\draw[e] (s31) .. controls (5030,262) and (5080,260) .. (5150,260) -- (7130,260) .. controls (7240,260) and (7300,400) .. (7304,700) -- (s32) node[lb] at (6097,249) {0x3d};
\draw[e] (s44) -- (7130,326) .. controls (7240,326) and (7300,450) .. (7305,750) -- (s32) node[lb] at (4839,315) {0x65};
\draw[e] (s52) .. controls (5200,400) and (5220,400) .. (5260,400) -- (7130,400) .. controls (7240,400) and (7302,550) .. (7306,850) -- (s32) node[lb] at (6193,388) {0x78};
\draw[e] (s108) .. controls (7150,549) and (7290,700) .. (7307,1000) -- (s32) node[lb] at (7161,535) {0x6c};
\draw[e] (s114) .. controls (5780,612) and (5830,612) .. (5900,612) -- (7130,612) .. controls (7240,612) and (7300,750) .. (7308,1050) -- (s32) node[lb] at (6485,600) {0x70};
\draw[e] (s71) .. controls (3760,664) and (3800,664) .. (3850,664) -- (7130,664) .. controls (7240,664) and (7300,800) .. (7309,1100) -- (s32) node[lb] at (5515,651) {0x63};
\draw[e] (s141) .. controls (5100,900) and (5150,969) .. (5230,969) -- (7130,969) .. controls (7240,969) and (7300,1100) .. (7310,1350) -- (s32) node[lb] at (6193,957) {0x20};
\draw[e] (s181) .. controls (5400,1110) and (5450,1135) .. (5520,1135) -- (7130,1135) .. controls (7240,1135) and (7300,1250) .. (7312,1500) -- (s32) node[lb] at (6290,1123) {0x68};
\draw[e] (s156) .. controls (5100,1200) and (5150,1270) .. (5230,1270) -- (7130,1270) .. controls (7240,1270) and (7300,1400) .. (7314,1600) -- (s32) node[lb] at (6193,1258) {0x74};
\draw[e] (s261) .. controls (7230,1750) and (7290,1790) .. (s32) node[lb] at (7240,1734) {0x6d};
\draw[e] (s146) -- (7130,1790) .. controls (7230,1790) and (7280,1810) .. (s32) node[lb] at (5709,1779) {0x2f};
% ---------------- into s32 from below
\draw[e] (s279) .. controls (3050,2137) and (3080,2137) .. (3120,2137) -- (7130,2137) .. controls (7240,2137) and (7300,2050) .. (7312,1950) -- (s32) node[lb] at (5129,2126) {0x31};
\draw[e] (s433) -- (7130,2196) .. controls (7240,2196) and (7300,2100) .. (7313,1980) -- (s32) node[lb] at (6001,2184) {0x76};
\draw[e] (s170) .. controls (6650,2262) and (6680,2260) .. (6720,2260) -- (7130,2260) .. controls (7240,2260) and (7300,2150) .. (7314,2000) -- (s32) node[lb] at (6968,2248) {0x6e};
\draw[e] (s608) .. controls (3140,2400) and (3220,2432) .. (3300,2432) -- (4300,2420) -- (5200,2404) -- (7130,2398) .. controls (7240,2398) and (7300,2250) .. (7315,2050) -- (s32) node[lb] at (5226,2392) {\$};
\draw[e] (s557) .. controls (4320,2476) and (4380,2473) .. (4450,2473) -- (7130,2449) .. controls (7240,2449) and (7300,2300) .. (7316,2080) -- (s32) node[lb] at (5806,2440) {0x00};
\draw[e] (s293) .. controls (5980,2505) and (6050,2497) .. (6100,2497) -- (7130,2497) .. controls (7240,2497) and (7300,2350) .. (7317,2100) -- (s32) node[lb] at (6581,2485) {0x54};
\draw[e] (s461) .. controls (7180,2555) and (7300,2400) .. (7318,2120) -- (s32) node[lb] at (7161,2540) {0x7b};
\draw[e] (s472) .. controls (7230,2600) and (7310,2420) .. (7319,2140) -- (s32) node[lb] at (7240,2586) {0x22};
\draw[e] (s517) .. controls (7230,2680) and (7315,2450) .. (7320,2160) -- (s32) node[lb] at (7240,2640) {0x5f};
\draw[e] (s488) .. controls (7100,2850) and (7310,2500) .. (7321,2180) -- (s32) node[lb] at (7161,2798) {0x2e};
\draw[e] (s523) .. controls (3450,3140) and (3480,3152) .. (3550,3152) -- (7130,3159) .. controls (7240,3159) and (7310,2900) .. (7322,2300) -- (s32) node[lb] at (5320,3142) {0x01};
\draw[e] (s532) -- (7130,3209) .. controls (7240,3209) and (7315,2950) .. (7323,2350) -- (s32) node[lb] at (5421,3198) {0xff};
\draw[e] (s602) -- (7130,3269) .. controls (7240,3269) and (7318,3000) .. (7324,2400) -- (s32) node[lb] at (5515,3258) {0x80};
\end{tikzpicture}
\end{document}
